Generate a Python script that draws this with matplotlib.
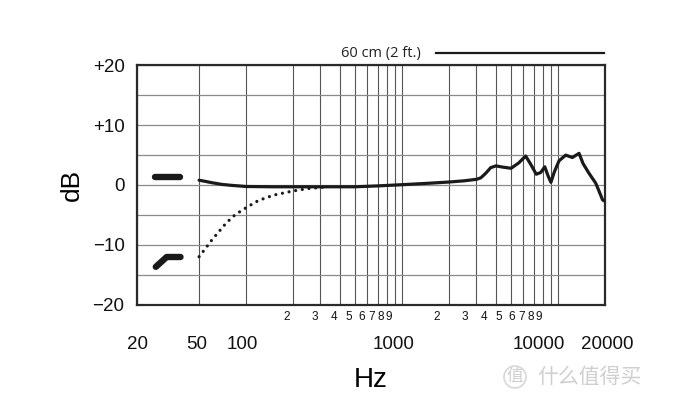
import matplotlib
matplotlib.use("Agg")
import matplotlib.pyplot as plt
from matplotlib.transforms import ScaledTranslation

# frequency response data
flat_hz = [50, 55, 60, 70, 80, 100, 150, 200, 300, 500, 700, 1000, 1500, 2000, 2500,
           3000, 3200, 3450, 3700, 4000, 4400, 5000, 5600, 6200, 6670, 7250, 7750,
           8220, 8640, 9000, 9470, 10150, 11200, 12350, 13640, 14460, 15800, 17450,
           18200, 19300, 20000]
flat_db = [0.8, 0.6, 0.4, 0.1, -0.05, -0.25, -0.3, -0.3, -0.3, -0.3, -0.15, 0.05, 0.3,
           0.5, 0.7, 0.95, 1.2, 2.0, 2.9, 3.2, 3.0, 2.8, 3.7, 4.85, 3.5, 1.8, 2.1,
           3.05, 1.5, 0.45, 2.2, 4.05, 5.0, 4.6, 5.3, 3.6, 1.95, 0.3, -0.85, -2.5, -2.7]

cut_hz = [50, 55, 60, 67, 75, 85, 100, 120, 150, 200, 250, 320]
cut_db = [-12.0, -10.6, -9.3, -7.8, -6.3, -5.0, -3.8, -2.6, -1.7, -1.0, -0.6, -0.35]

# the two switch symbols at the left
sym_flat_hz = [26, 38]
sym_flat_db = [1.3, 1.3]
sym_cut_hz = [26.4, 31, 38]
sym_cut_db = [-13.7, -12.05, -12.05]

major_ticks = [20, 50, 100, 1000, 10000, 20000]
major_labels = ['20', '50', '100', '1000', '10000', '20000']
major_shift = [0, -2, -4, -8, -19, 2]
minor_ticks = [200, 300, 400, 500, 600, 700, 800, 900,
               2000, 3000, 4000, 5000, 6000, 7000, 8000, 9000]
minor_labels = ['2', '3', '4', '5', '6', '7', '8', '9'] * 2
y_ticks = [-20, -10, 0, 10, 20]
y_labels = ['\u221220', '\u221210', '0', '+10', '+20']

plt.rcParams['font.family'] = ['Liberation Sans', 'DejaVu Sans']

fig = plt.figure(figsize=(6.78, 4.03), dpi=100)
ax = fig.add_axes([137/678, 1-304.5/403, 468/678, 239/403])

ax.plot(flat_hz, flat_db, color='#1a1a1a', lw=2.3, solid_joinstyle='round',
        solid_capstyle='round', zorder=3)
ax.plot(cut_hz, cut_db, color='#1a1a1a', lw=2.3, linestyle=(0, (0.01, 2.1)),
        dash_capstyle='round', zorder=3)
ax.plot(sym_flat_hz, sym_flat_db, color='#1a1a1a', lw=4.6, solid_capstyle='round', zorder=3)
ax.plot(sym_cut_hz, sym_cut_db, color='#1a1a1a', lw=4.6, solid_capstyle='round',
        solid_joinstyle='round', zorder=3)

ax.set_xscale('log')
ax.set_xlim(20, 20000)
ax.set_ylim(-20, 20)

ax.set_xticks(major_ticks)
ax.set_xticklabels(major_labels, fontsize=13.5)
ax.set_xticks(minor_ticks, minor=True)
ax.set_xticklabels(minor_labels, minor=True, fontsize=8.5)
ax.set_yticks(y_ticks)
ax.set_yticklabels(y_labels, fontsize=13.5)
ax.set_yticks([-15, -5, 5, 15], minor=True)

ax.tick_params(axis='x', which='major', length=0, pad=23, colors='#111')
ax.tick_params(axis='x', which='minor', length=0, pad=5, colors='#111')
ax.tick_params(axis='y', which='both', length=0, pad=9, colors='#111')

for lab, dx in zip(ax.get_xticklabels(), major_shift):
    lab.set_transform(lab.get_transform() + ScaledTranslation(dx/100, 0, fig.dpi_scale_trans))
for i, lab in enumerate(ax.get_xticklabels(minor=True)):
    dx = -6 if i < 8 else -12
    lab.set_transform(lab.get_transform() + ScaledTranslation(dx/100, 0, fig.dpi_scale_trans))

ax.grid(True, which='both', axis='x', color='#555555', lw=0.8)
ax.grid(True, which='both', axis='y', color='#8a8a8a', lw=0.9)
ax.set_axisbelow(True)
for s in ax.spines.values():
    s.set_linewidth(1.6)
    s.set_color('#2a2a2a')

ax.set_ylabel('dB', fontsize=19, labelpad=6)
ax.set_xlabel('Hz', fontsize=20, labelpad=10)

# distance marker above the chart
ax.text(0.607, 1.052, '60 cm (2 ft.)', transform=ax.transAxes, ha='right', va='center',
        fontsize=10.5, family=['Open Sans', 'DejaVu Sans'], color='#222')
ax.plot([0.639, 0.998], [1.052, 1.052], transform=ax.transAxes, color='#1a1a1a',
        lw=1.6, clip_on=False)

# watermark
fig.text(515/678, 1-377/403, '值', fontsize=12, color='#cfcfcf', ha='center', va='center',
         family=['Noto Sans CJK SC'],
         bbox=dict(boxstyle='circle,pad=0.15', fc='none', ec='#d8d8d8', lw=1.2))
fig.text(537/678, 1-377/403, '什么值得买', fontsize=15, color='#cfcfcf', ha='left',
         va='center', family=['Noto Sans CJK SC'])

fig.savefig('out.png', dpi=100)
